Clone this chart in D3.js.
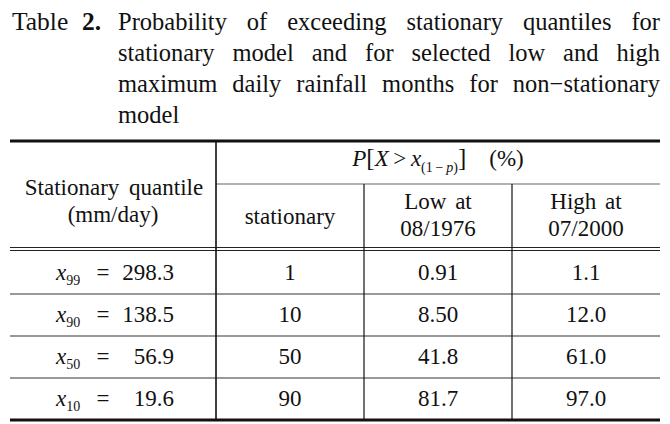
<!DOCTYPE html>
<html>
<head>
<meta charset="utf-8">
<script src="https://cdn.jsdelivr.net/npm/d3@7"></script>
<style>
  html, body { margin: 0; padding: 0; background: #fff; }
  svg { display: block; }
</style>
</head>
<body>
<svg id="chart" width="670" height="424"></svg>
<script>
// ---- data ----
const titleLines = [
  ["Probability", "of", "exceeding", "stationary", "quantiles", "for"],
  ["stationary", "model", "and", "for", "selected", "low", "and", "high"],
  ["maximum", "daily", "rainfall", "months", "for", "non\u2212stationary"],
  ["model"]
];
const titleLabel = ["Table", "2."];
const quantileSubs = ["99", "90", "50", "10"];
const quantileValues = ["298.3", "138.5", "56.9", "19.6"];
const stationaryValues = ["1", "10", "50", "90"];
const lowValues = ["0.91", "8.50", "41.8", "81.7"];
const highValues = ["1.1", "12.0", "61.0", "97.0"];
const columnHeaders = [["stationary"], ["Low at", "08/1976"], ["High at", "07/2000"]];
const firstHeader = ["Stationary quantile", "(mm/day)"];

// ---- layout ----
const FONT = "Liberation Serif";
const svg = d3.select("#chart").attr("font-family", FONT);
const left = 10, right = 660;
const firstColRight = 216;
const yTop = 141, ySub = 184, yDouble = 249, yBottom = 420;

const colKeys = ["stationary", "low", "high"];
const x = d3.scaleBand().domain(colKeys).range([firstColRight, right]).paddingInner(0).paddingOuter(0);
const y = d3.scaleBand().domain(quantileSubs).range([yDouble + 3, yBottom]).padding(0);
const colData = { stationary: stationaryValues, low: lowValues, high: highValues };

// ---- title ----
const titleSize = 24.5;
const tTitle = svg.append("g").attr("font-family", FONT).attr("font-size", titleSize).attr("fill", "#111");
tTitle.append("text").attr("x", 12).attr("y", 30).attr("font-size", 25.5).text(titleLabel[0]);
tTitle.append("text").attr("x", 82).attr("y", 30).attr("font-size", 25.5).attr("font-weight", "bold").text(titleLabel[1]);
const titleLeft = 118, titleRight = 660;
const baseY = [30, 61, 92, 123];
titleLines.forEach((words, li) => {
  const g = tTitle.append("g");
  const nodes = words.map(w => g.append("text").attr("y", baseY[li]).text(w));
  const widths = nodes.map(n => n.node().getComputedTextLength());
  const total = d3.sum(widths);
  const justify = li < titleLines.length - 1;
  const gap = justify ? (titleRight - titleLeft - total) / (words.length - 1) : 8;
  let cx = titleLeft;
  nodes.forEach((n, i) => { n.attr("x", cx); cx += widths[i] + gap; });
});

// ---- rules ----
const rules = svg.append("g");
rules.append("line").attr("x1", left).attr("x2", right).attr("y1", yTop).attr("y2", yTop)
  .attr("stroke", "#111").attr("stroke-width", 3);
rules.append("line").attr("x1", firstColRight).attr("x2", right).attr("y1", ySub).attr("y2", ySub)
  .attr("stroke", "#666").attr("stroke-width", 1.2);
[yDouble - 1.5, yDouble + 1.5].forEach(yy =>
  rules.append("line").attr("x1", left).attr("x2", right).attr("y1", yy).attr("y2", yy)
    .attr("stroke", "#222").attr("stroke-width", 1.1));
quantileSubs.slice(1).forEach(q =>
  rules.append("line").attr("x1", left).attr("x2", right).attr("y1", y(q)).attr("y2", y(q))
    .attr("stroke", "#777").attr("stroke-width", 1.6));
rules.append("line").attr("x1", left).attr("x2", right).attr("y1", yBottom).attr("y2", yBottom)
  .attr("stroke", "#111").attr("stroke-width", 3.2);
rules.append("line").attr("x1", firstColRight).attr("x2", firstColRight).attr("y1", yTop).attr("y2", yBottom)
  .attr("stroke", "#111").attr("stroke-width", 1.6);
colKeys.slice(1).forEach(k =>
  rules.append("line").attr("x1", x(k)).attr("x2", x(k)).attr("y1", ySub).attr("y2", yBottom)
    .attr("stroke", "#111").attr("stroke-width", 1.2));

// ---- header ----
const fs = 23;
const hdr = svg.append("g").attr("font-family", FONT).attr("font-size", fs).attr("fill", "#111");
const c0 = (left + firstColRight) / 2;
hdr.append("text").attr("x", c0 + 1).attr("y", 195).attr("text-anchor", "middle")
  .attr("word-spacing", 4).text(firstHeader[0]);
hdr.append("text").attr("x", c0).attr("y", 222).attr("text-anchor", "middle").text(firstHeader[1]);

const pm = hdr.append("text").attr("x", (firstColRight + right) / 2).attr("y", 166).attr("text-anchor", "middle");
pm.append("tspan").attr("font-style", "italic").text("P");
pm.append("tspan").attr("font-size", 25).text("[");
pm.append("tspan").attr("font-style", "italic").text("X");
pm.append("tspan").text("\u2009>\u2009");
pm.append("tspan").attr("font-style", "italic").text("x");
pm.append("tspan").attr("dy", 6).attr("font-size", 14).text("(1\u2009\u2212\u2009");
pm.append("tspan").attr("font-size", 14).attr("font-style", "italic").text("p");
pm.append("tspan").attr("font-size", 14).text(")");
pm.append("tspan").attr("dy", -6).attr("font-size", 25).text("]");
pm.append("tspan").text("\u2003(%)");

columnHeaders.forEach((lines, i) => {
  const k = colKeys[i];
  const cx = x(k) + x.bandwidth() / 2;
  if (lines.length === 1) {
    hdr.append("text").attr("x", cx).attr("y", 224).attr("text-anchor", "middle").text(lines[0]);
  } else {
    hdr.append("text").attr("x", cx).attr("y", 209).attr("text-anchor", "middle")
      .attr("word-spacing", 3).text(lines[0]);
    hdr.append("text").attr("x", cx).attr("y", 236).attr("text-anchor", "middle").text(lines[1]);
  }
});

// ---- body ----
const body = svg.append("g").attr("font-family", FONT).attr("font-size", fs).attr("fill", "#111");
quantileSubs.forEach((q, i) => {
  const cy = y(q) + y.bandwidth() / 2 + 7;
  const t = body.append("text").attr("x", 56).attr("y", cy);
  t.append("tspan").attr("font-style", "italic").text("x");
  t.append("tspan").attr("dy", 5).attr("font-size", 14).text(q);
  body.append("text").attr("x", 103).attr("y", cy).attr("text-anchor", "middle").text("=");
  body.append("text").attr("x", 174).attr("y", cy).attr("text-anchor", "end").text(quantileValues[i]);
  colKeys.forEach(k => {
    body.append("text").attr("x", x(k) + x.bandwidth() / 2).attr("y", cy)
      .attr("text-anchor", "middle").text(colData[k][i]);
  });
});
</script>
</body>
</html>
